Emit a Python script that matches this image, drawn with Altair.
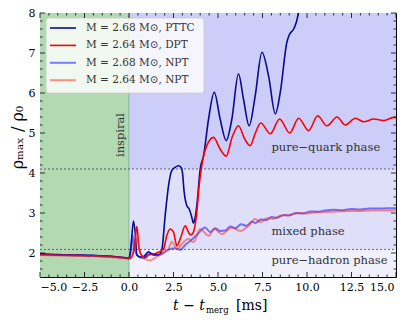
import altair as alt
import pandas as pd

# ---------------- data ----------------
series_names = [
    "M = 2.68 M\u2299, PTTC",
    "M = 2.64 M\u2299, DPT",
    "M = 2.68 M\u2299, NPT",
    "M = 2.64 M\u2299, NPT",
]

pttc_t = [-5.0, -4.0, -3.0, -2.0, -1.0, -0.5, 0.0,
          0.1, 0.25, 0.35, 0.44, 0.62,
          0.85, 1.09, 1.37, 1.66, 1.84,
          2.03, 2.22, 2.4, 2.59, 2.78,
          2.93, 3.0, 3.1, 3.25, 3.38,
          3.53, 3.62, 3.7, 3.81, 4.0,
          4.19, 4.47, 4.79, 5.12, 5.46,
          5.78, 6.15, 6.43, 6.75, 7.09,
          7.47, 7.84, 8.22, 8.5, 8.87,
          9.0, 9.25, 9.4, 9.55, 9.7]
pttc_r = [1.98, 1.96, 1.95, 1.94, 1.92, 1.90, 1.87,
          2.1, 2.8, 2.5, 1.95, 1.9,
          1.92, 2.03, 1.95, 1.95, 2.06,
          2.93, 3.68, 4.06, 4.14, 4.18,
          4.14, 4.02, 3.52, 3.18, 3.1,
          2.89, 2.75, 2.85, 3.18, 4.1,
          4.43, 5.35, 6.02, 5.35, 4.81,
          5.35, 6.48, 5.85, 5.18, 5.93,
          7.02, 6.43, 5.48, 6.02, 7.27,
          7.45, 7.6, 7.77, 8.06, 8.4]

dpt_t = [-5.0, -4.0, -3.0, -2.0, -1.0, -0.5, 0.0,
         0.15, 0.31, 0.44, 0.57, 0.72,
         0.9, 1.1, 1.3, 1.56, 1.94,
         2.12, 2.31, 2.5, 2.69, 2.91,
         3.16, 3.34, 3.45, 3.6, 3.81,
         3.94, 4.06, 4.2, 4.37, 4.75,
         5.12, 5.46, 5.8, 6.15, 6.5,
         6.81, 7.1, 7.4, 7.94, 8.46,
         9.03, 9.53, 10.09, 10.6, 11.12,
         11.69, 12.15, 12.72, 13.19, 13.75,
         14.3, 14.87, 15.0]
dpt_r = [1.96, 1.95, 1.94, 1.93, 1.91, 1.89, 1.86,
         1.9, 2.18, 2.67, 2.1, 1.93,
         1.88, 1.95, 1.97, 2.0, 2.1,
         2.43, 2.6, 2.52, 2.18, 2.39,
         2.68, 2.52, 2.45, 2.5, 3.02,
         3.68, 4.1, 4.45, 4.68, 4.89,
         4.6, 4.42, 4.9, 5.18, 4.85,
         4.68, 5.0, 5.25, 4.98, 5.35,
         5.0, 5.37, 5.06, 5.43, 5.18,
         5.4, 5.2, 5.37, 5.28, 5.35,
         5.31, 5.39, 5.38]

npt268_t = [-5.0, -4.0, -3.0, -2.0, -1.0, -0.5, 0.0,
            0.1, 0.19, 0.3, 0.5, 0.8,
            1.09, 1.37, 1.75, 2.03, 2.31,
            2.59, 2.88, 3.2, 3.44, 3.81,
            4.28, 4.56, 4.85, 5.1, 5.4,
            5.7, 5.97, 6.3, 6.6, 6.9,
            7.1, 7.4, 7.7, 8.0, 8.3,
            8.7, 9.0, 9.4, 9.8, 10.2,
            10.6, 11.0, 11.5, 12.0, 12.5,
            13.0, 13.5, 14.0, 14.5, 15.0]
npt268_r = [1.96, 1.95, 1.94, 1.93, 1.91, 1.89, 1.87,
            2.05, 2.45, 2.1, 1.93, 1.87,
            2.0, 1.97, 1.96, 2.04, 2.1,
            2.12, 2.08, 2.22, 2.3, 2.45,
            2.64, 2.52, 2.62, 2.55, 2.56,
            2.66, 2.62, 2.72, 2.68, 2.78,
            2.75, 2.84, 2.82, 2.9, 2.88,
            2.95, 2.94, 3.0, 2.99, 3.04,
            3.03, 3.06, 3.08, 3.07, 3.1,
            3.09, 3.11, 3.11, 3.12, 3.12]

npt264_t = [-5.0, -4.0, -3.0, -2.0, -1.0, -0.5, 0.0,
            0.2, 0.44, 0.6, 0.9, 1.19,
            1.45, 1.66, 1.95, 2.22, 2.4,
            2.69, 2.95, 3.34, 3.62, 4.0,
            4.47, 4.8, 5.22, 5.78, 6.25,
            6.72, 7.09, 7.37, 7.75, 8.1,
            8.5, 9.0, 9.6, 10.0, 10.6,
            11.0, 11.6, 12.4, 13.0, 13.6,
            14.2, 15.0]
npt264_r = [1.95, 1.94, 1.93, 1.92, 1.9, 1.88, 1.86,
            1.95, 2.35, 2.05, 1.85, 1.81,
            1.88, 1.93, 2.0, 2.1, 2.28,
            2.1, 2.22, 2.35, 2.27, 2.6,
            2.43, 2.6, 2.47, 2.64, 2.55,
            2.68, 2.85, 2.77, 2.87, 2.85,
            2.93, 2.95, 3.0, 2.99, 3.02,
            3.02, 3.04, 3.05, 3.05, 3.06,
            3.06, 3.07]

# phase boundaries (rho_max / rho_0) and merger time
hadron_mixed = 2.09
mixed_quark = 4.1
t_merger = 0.0
phase_labels = ["pure\u2212quark phase", "mixed phase", "pure\u2212hadron phase"]
phase_label_y = [4.62, 2.52, 1.79]

x_major = [-5.0, -2.5, 0.0, 2.5, 5.0, 7.5, 10.0, 12.5, 15.0]
y_major = [2, 3, 4, 5, 6, 7, 8]

# ---------------- styles / layout ----------------
W, H = 356, 264
X_DOM = [-5, 15]
Y_DOM = [1.4, 8]
FONT = "DejaVu Serif"
TXT = "#333333"
Y_TITLE = "\u03c1\u2098\u2090\u2093 / \u03c1\u2080"

series_colors = ["#0a0a8c", "#ff0000", "rgba(0,0,255,0.5)", "rgba(255,40,20,0.5)"]
series_widths = [1.6, 1.6, 2.0, 2.0]

xs = alt.Scale(domain=X_DOM, nice=False, zero=False)
ys = alt.Scale(domain=Y_DOM, nice=False, zero=False)


def X(f="x"):
    return alt.X(f"{f}:Q", scale=xs, title=None)


def Y(f="y"):
    return alt.Y(f"{f}:Q", scale=ys, title=Y_TITLE)


regions = pd.DataFrame({
    "x": [X_DOM[0], t_merger, t_merger, t_merger],
    "x2": [t_merger, X_DOM[1], X_DOM[1], X_DOM[1]],
    "y": [Y_DOM[0], Y_DOM[0], hadron_mixed, mixed_quark],
    "y2": [Y_DOM[1], hadron_mixed, mixed_quark, Y_DOM[1]],
    "fill": ["#b3d9b3", "#f0f0fc", "#dfdffa", "#cdcdf9"],
})

bg = alt.Chart(regions).mark_rect().encode(
    x=alt.X("x:Q", scale=xs, title=None,
            axis=alt.Axis(values=x_major, format=".1f", labelPadding=4,
                          labelOffset={"condition": {"test": "datum.value == 15", "value": -2},
                                       "value": 0})),
    x2="x2:Q",
    y=alt.Y("y:Q", scale=ys, title=Y_TITLE,
            axis=alt.Axis(values=y_major, format="d",
                          titleFont=FONT, titleFontSize=16,
                          titleFontWeight="normal", titleColor="black",
                          titleY=124, titlePadding=3, labelPadding=5)),
    y2="y2:Q",
    fill=alt.Fill("fill:N", scale=None),
)

edge = alt.Chart(pd.DataFrame({"x": [t_merger]})).mark_rule(
    color="#5f9f8f", strokeWidth=0.8, opacity=0.8
).encode(x=X())

bounds = alt.Chart(pd.DataFrame({"y": [hadron_mixed, mixed_quark]})).mark_rule(
    color="#303060", strokeWidth=0.7, strokeDash=[2, 2]
).encode(y=Y(), x=alt.value(0), x2=alt.value(W))

phase_df = pd.DataFrame({"label": phase_labels, "x": [8.0] * 3, "y": phase_label_y})
phase_txt = alt.Chart(phase_df).mark_text(
    align="left", baseline="middle", font=FONT, fontSize=11.5, color=TXT
).encode(x=X(), y=Y(), text="label:N")

insp = alt.Chart(pd.DataFrame({"label": ["inspiral"], "x": [-0.45], "y": [4.95]})).mark_text(
    align="center", baseline="middle", angle=270, font=FONT, fontSize=11.5, color=TXT
).encode(x=X(), y=Y(), text="label:N")

all_t = [pttc_t, dpt_t, npt268_t, npt264_t]
all_r = [pttc_r, dpt_r, npt268_r, npt264_r]
line_layers = []
for name, t, r, c, w in zip(series_names, all_t, all_r, series_colors, series_widths):
    d = pd.DataFrame({"x": t, "y": r})
    line_layers.append(
        alt.Chart(d).mark_line(interpolate="monotone", clip=True, color=c, strokeWidth=w)
        .encode(x=X(), y=Y())
    )

# legend (manual, in pixel space)
one = pd.DataFrame({"a": [0]})
leg_layers = [alt.Chart(one).mark_rect(
    fill="white", fillOpacity=0.8, stroke="#cccccc", strokeWidth=0.8, cornerRadius=3
).encode(x=alt.value(6), x2=alt.value(164), y=alt.value(5), y2=alt.value(80))]
for i, (name, c, w) in enumerate(zip(series_names, series_colors, series_widths)):
    ly = 15 + 17.4 * i
    leg_layers.append(alt.Chart(one).mark_rule(color=c, strokeWidth=w).encode(
        x=alt.value(10), x2=alt.value(36), y=alt.value(ly)))
    leg_layers.append(alt.Chart(one).mark_text(
        align="left", baseline="middle", font=FONT, fontSize=10.5, color=TXT, text=name
    ).encode(x=alt.value(46), y=alt.value(ly)))

# inward ticks on all four sides
x_minor = [round(-5 + 0.5 * i, 1) for i in range(41)]
x_minor = [v for v in x_minor if v not in x_major]
y_minor = [round(1.4 + 0.2 * i, 1) for i in range(34)]
y_minor = [v for v in y_minor if v not in y_major and 1.4 < v < 8]


def xticks(vals, ln):
    d = pd.DataFrame({"x": vals})
    base = alt.Chart(d).mark_rule(color="black", strokeWidth=0.8)
    return [
        base.encode(x=X(), y=alt.value(H), y2=alt.value(H - ln)),
        base.encode(x=X(), y=alt.value(0), y2=alt.value(ln)),
    ]


def yticks(vals, ln):
    d = pd.DataFrame({"y": vals})
    base = alt.Chart(d).mark_rule(color="black", strokeWidth=0.8)
    return [
        base.encode(y=Y(), x=alt.value(0), x2=alt.value(ln)),
        base.encode(y=Y(), x=alt.value(W), x2=alt.value(W - ln)),
    ]


ticks = xticks(x_major, 5) + xticks(x_minor, 2.5) + yticks(y_major, 5) + yticks(y_minor, 2.5)

# x-axis title pieces: t - t_merg [ms]
xt1 = alt.Chart(one).mark_text(align="right", baseline="alphabetic", font=FONT,
                               fontSize=14, fontStyle="italic", color="black",
                               text="t \u2212 t").encode(x=alt.value(165), y=alt.value(297))
xt2 = alt.Chart(one).mark_text(align="left", baseline="alphabetic", font=FONT,
                               fontSize=8.5, color="black",
                               text="merg").encode(x=alt.value(166), y=alt.value(299.5))
xt3 = alt.Chart(one).mark_text(align="left", baseline="alphabetic", font=FONT,
                               fontSize=14, color="black",
                               text="[ms]").encode(x=alt.value(196), y=alt.value(297))

chart = alt.layer(
    bg, edge, bounds, phase_txt, insp, *line_layers, *leg_layers,
    *ticks, xt1, xt2, xt3
).properties(
    width=W, height=H,
    autosize=alt.AutoSizeParams(type="none"),
    padding={"left": 32, "top": 5, "right": 11, "bottom": 39},
).configure_view(
    stroke="black", strokeWidth=1
).configure_axis(
    domain=False, ticks=False, grid=False,
    labelFont=FONT, labelFontSize=11, labelColor="black",
)

chart.save("out.html", embed_options={"renderer": "svg", "actions": False})
